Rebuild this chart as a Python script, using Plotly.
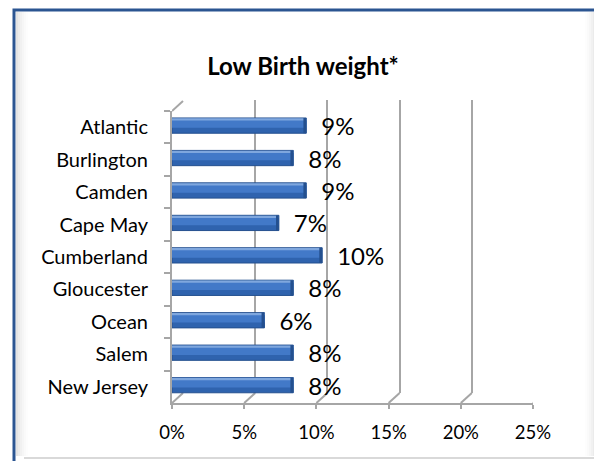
import plotly.graph_objects as go

W, H = 602, 461
BODY = 8  # default page margin of the html body

counties = ["Atlantic", "Burlington", "Camden", "Cape May", "Cumberland",
            "Gloucester", "Ocean", "Salem", "New Jersey"]
low_birth_weight = [0.093, 0.084, 0.093, 0.074, 0.104, 0.084, 0.064, 0.084, 0.084]
x_ticks = [0, 0.05, 0.10, 0.15, 0.20, 0.25]
title_text = "Low Birth weight*"

FONT = "Lato"
GRID = "#A6A6A6"
CAP = 0.002  # width of the dark end cap of each bar


def px(x):
    return (x - BODY) / W


def py(y):
    return 1 - (y - BODY) / H


labels = ["\u2002{:.0%}".format(v) for v in low_birth_weight]

fig = go.Figure()

# back wall subplot (x, y) drawn first so the bars sit on top of its gridlines
fig.add_trace(go.Scatter(x=[0, 0.25], y=[0, 1], xaxis="x", yaxis="y",
                         mode="markers", marker=dict(opacity=0),
                         hoverinfo="skip", showlegend=False))

# main bar body
fig.add_trace(go.Bar(
    y=counties, x=low_birth_weight, orientation="h",
    xaxis="x3", yaxis="y2",
    width=0.47, offset=-0.285,
    marker=dict(color="#2F63AE", line=dict(color="#25508F", width=1)),
    text=labels, textposition="outside", cliponaxis=False, constraintext="none",
    textfont=dict(family=FONT, size=24, color="black"),
    hoverinfo="skip", showlegend=False))
# lighter middle band
fig.add_trace(go.Bar(
    y=counties, x=low_birth_weight, orientation="h",
    xaxis="x3", yaxis="y2",
    width=0.26, offset=-0.24,
    marker=dict(color="#4279C8", line=dict(width=0)),
    hoverinfo="skip", showlegend=False))
# top highlight
fig.add_trace(go.Bar(
    y=counties, x=low_birth_weight, orientation="h",
    xaxis="x3", yaxis="y2",
    width=0.07, offset=-0.275,
    marker=dict(color="#7FA7DE", line=dict(width=0)),
    hoverinfo="skip", showlegend=False))
# dark end cap
fig.add_trace(go.Bar(
    y=counties, x=[CAP] * len(counties), base=[v - CAP for v in low_birth_weight],
    orientation="h", xaxis="x3", yaxis="y2",
    width=0.47, offset=-0.285,
    marker=dict(color="#24508F", line=dict(width=0)),
    hoverinfo="skip", showlegend=False))

shapes = []
# frame
shapes.append(dict(type="rect", xref="paper", yref="paper",
                   x0=px(14), x1=px(599), y0=py(475), y1=py(10),
                   line=dict(color="#2B5591", width=3), layer="below"))
# inner shading of the frame
for i, op in enumerate([0.22, 0.16, 0.11, 0.07, 0.04, 0.02]):
    shapes.append(dict(type="rect", xref="paper", yref="paper",
                       x0=px(16 + 2 * i), x1=px(18 + 2 * i), y0=py(456), y1=py(12),
                       fillcolor="gray", opacity=op, line=dict(width=0), layer="below"))
    shapes.append(dict(type="rect", xref="paper", yref="paper",
                       x0=px(595 - 2 * i), x1=px(597 - 2 * i), y0=py(456), y1=py(12),
                       fillcolor="gray", opacity=op, line=dict(width=0), layer="below"))
shapes.append(dict(type="line", xref="paper", yref="paper",
                   x0=px(24), x1=px(596), y0=py(458), y1=py(458),
                   line=dict(color="#D9D9D9", width=2)))

# depth diagonals on the floor
for t in x_ticks:
    shapes.append(dict(type="line", xref="x2", yref="paper",
                       xsizemode="pixel", xanchor=t, x0=0, x1=11,
                       ysizemode="pixel", yanchor=py(403), y0=0, y1=10,
                       line=dict(color=GRID, width=2), layer="below"))
# top-left corner of the side wall
shapes.append(dict(type="line", xref="x2", yref="paper",
                   xsizemode="pixel", xanchor=0, x0=0, x1=11,
                   ysizemode="pixel", yanchor=py(111), y0=0, y1=10,
                   line=dict(color=GRID, width=2), layer="below"))

fig.update_layout(
    width=W, height=H,
    margin=dict(l=0, r=0, t=0, b=0, pad=0, autoexpand=False),
    paper_bgcolor="white", plot_bgcolor="rgba(0,0,0,0)",
    barmode="overlay",
    title=dict(text="<b>" + title_text + "</b>", x=px(303), y=py(67),
               xanchor="center", yanchor="middle", automargin=False,
               font=dict(family=FONT, size=24, color="black")),
    font=dict(family=FONT, color="black"),
    shapes=shapes,
    # back wall axes (gridlines)
    xaxis=dict(domain=[px(183), px(544)], range=[0, 0.25], anchor="y",
               tickvals=x_ticks, showticklabels=False, showgrid=True,
               gridcolor=GRID, gridwidth=2, zeroline=False, showline=False,
               automargin=False),
    yaxis=dict(domain=[py(393), py(100)], anchor="x", range=[0, 1],
               visible=False, automargin=False),
    # front axes
    xaxis2=dict(domain=[px(172), px(533)], range=[0, 0.25], anchor="y2",
                tickvals=x_ticks, tickformat=".0%", showgrid=False, zeroline=False,
                showline=True, linecolor=GRID, linewidth=2, automargin=False,
                ticks="outside", ticklen=4, tickcolor=GRID, tickwidth=2,
                ticklabelstandoff=8,
                tickfont=dict(family=FONT, size=18.5, color="black")),
    yaxis2=dict(domain=[py(403), py(111)], anchor="x2", type="category",
                autorange="reversed", tickson="boundaries", automargin=False,
                showline=True, linecolor=GRID, linewidth=2, showgrid=False,
                ticks="outside", ticklen=6, tickcolor=GRID, tickwidth=2,
                ticklabelstandoff=18,
                tickfont=dict(family=FONT, size=20, color="black")),
    # mid-depth axis for bars
    xaxis3=dict(domain=[px(177.5), px(538.5)], range=[0, 0.25], anchor="y2",
                overlaying="x2", visible=False, automargin=False),
)

fig.write_html("out.html")
